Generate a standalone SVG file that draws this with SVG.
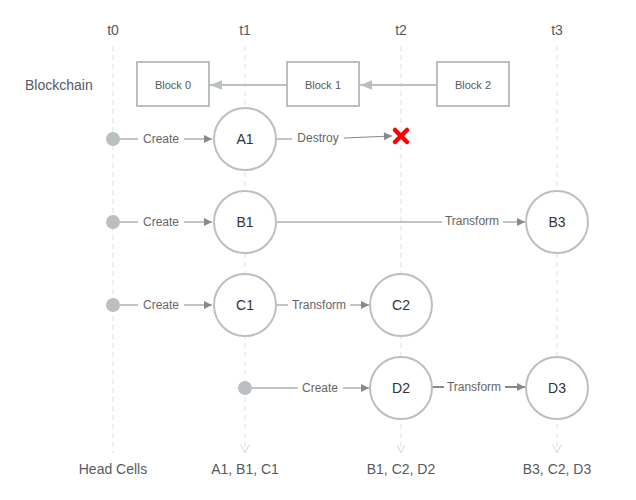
<svg xmlns="http://www.w3.org/2000/svg" width="636" height="500" viewBox="0 0 636 500">
<style>
text{font-family:"Liberation Sans",Arial,sans-serif;fill:#555a60}
.tl{font-size:14px;text-anchor:middle}
.lane{stroke:#dcdfe3;stroke-width:1;stroke-dasharray:5 4;fill:none}
.blk rect{fill:#fff;stroke:#babfc2;stroke-width:2}
.blk text{font-size:11px;text-anchor:middle}
.cell circle{fill:#fff;stroke:#babfc2;stroke-width:2}
.cell text{font-size:14px;text-anchor:middle;fill:#333}
.dot{fill:#babfc2}
.e{stroke:#888;stroke-width:1;fill:none}
.el{font-size:12px;text-anchor:middle;fill:#666}
.ch{stroke:#babfc2;stroke-width:2;fill:none}
</style>
<defs>
<marker id="ah" viewBox="0 0 10 10" refX="10" refY="5" markerWidth="10" markerHeight="8" markerUnits="userSpaceOnUse" orient="auto"><path d="M0,0L10,5L0,10z" fill="#888"/></marker>
<marker id="ahc" viewBox="0 0 10 10" refX="10" refY="5" markerWidth="12" markerHeight="12" markerUnits="userSpaceOnUse" orient="auto"><path d="M0,1L10,5L0,9z" fill="#babfc2"/></marker>
<marker id="ahl" viewBox="0 0 10 10" refX="10" refY="5" markerWidth="8" markerHeight="10" markerUnits="userSpaceOnUse" orient="auto"><path d="M0,0L10,5L0,10" fill="none" stroke="#dcdfe3" stroke-width="1.5"/></marker>
</defs>
<g id="timeline">
<text class="tl" x="113" y="35">t0</text>
<text class="tl" x="245" y="35">t1</text>
<text class="tl" x="401" y="35">t2</text>
<text class="tl" x="557" y="35">t3</text>
<line class="lane" x1="113" y1="46" x2="113" y2="453"/>
<line class="lane" x1="245" y1="46" x2="245" y2="453" marker-end="url(#ahl)"/>
<line class="lane" x1="401" y1="46" x2="401" y2="453" marker-end="url(#ahl)"/>
<line class="lane" x1="557" y1="46" x2="557" y2="453" marker-end="url(#ahl)"/>
<text x="25" y="90" style="font-size:14px">Blockchain</text>
<text class="tl" x="113" y="474">Head Cells</text>
<text class="tl" x="245" y="474">A1, B1, C1</text>
<text class="tl" x="401" y="474">B1, C2, D2</text>
<text class="tl" x="557" y="474">B3, C2, D3</text>
</g>
<g id="connectors">
<line class="ch" x1="287" y1="85" x2="210" y2="85" marker-end="url(#ahc)"/>
<line class="ch" x1="437" y1="85" x2="360" y2="85" marker-end="url(#ahc)"/>
<line class="e" x1="120" y1="139" x2="138" y2="139"/>
<text class="el" x="161" y="143">Create</text>
<line class="e" x1="184" y1="139" x2="212" y2="139" marker-end="url(#ah)"/>
<line class="e" x1="276" y1="139" x2="292" y2="139"/>
<text class="el" x="318" y="142">Destroy</text>
<line class="e" x1="344" y1="138" x2="392" y2="136" marker-end="url(#ah)"/>
<line class="e" x1="120" y1="222" x2="138" y2="222"/>
<text class="el" x="161" y="226">Create</text>
<line class="e" x1="184" y1="222" x2="212" y2="222" marker-end="url(#ah)"/>
<line class="e" x1="276" y1="222" x2="442" y2="222"/>
<text class="el" x="472" y="225">Transform</text>
<line class="e" x1="503" y1="222" x2="525" y2="222" marker-end="url(#ah)"/>
<line class="e" x1="120" y1="305" x2="138" y2="305"/>
<text class="el" x="161" y="309">Create</text>
<line class="e" x1="184" y1="305" x2="212" y2="305" marker-end="url(#ah)"/>
<line class="e" x1="276" y1="305" x2="288" y2="305"/>
<text class="el" x="319" y="309">Transform</text>
<line class="e" x1="350" y1="305" x2="369" y2="305" marker-end="url(#ah)"/>
<line class="e" x1="252" y1="388" x2="298" y2="388"/>
<text class="el" x="320" y="392">Create</text>
<line class="e" x1="343" y1="388" x2="369" y2="388" marker-end="url(#ah)"/>
<line class="e" x1="432" y1="387" x2="444" y2="387" style="stroke-width:2"/>
<text class="el" x="474" y="391">Transform</text>
<line class="e" x1="505" y1="387" x2="525" y2="387" style="stroke-width:2" marker-end="url(#ah)"/>
</g>
<g id="block0" class="blk"><rect x="137" y="62" width="72" height="44"/><text x="173" y="89">Block 0</text></g>
<g id="block1" class="blk"><rect x="287" y="62" width="72" height="44"/><text x="323" y="89">Block 1</text></g>
<g id="block2" class="blk"><rect x="437" y="62" width="72" height="44"/><text x="473" y="89">Block 2</text></g>
<g id="origin-a"><circle class="dot" cx="113" cy="139" r="7"/></g>
<g id="origin-b"><circle class="dot" cx="113" cy="222" r="7"/></g>
<g id="origin-c"><circle class="dot" cx="113" cy="305" r="7"/></g>
<g id="origin-d"><circle class="dot" cx="245" cy="388" r="7"/></g>
<g id="A1" class="cell"><circle cx="245" cy="139" r="31"/><text x="245" y="144">A1</text></g>
<g id="B1" class="cell"><circle cx="245" cy="222" r="31"/><text x="245" y="227">B1</text></g>
<g id="C1" class="cell"><circle cx="245" cy="305" r="31"/><text x="245" y="310">C1</text></g>
<g id="C2" class="cell"><circle cx="401" cy="305" r="31"/><text x="401" y="310">C2</text></g>
<g id="D2" class="cell"><circle cx="401" cy="388" r="31"/><text x="401" y="393">D2</text></g>
<g id="B3" class="cell"><circle cx="557" cy="222" r="31"/><text x="557" y="227">B3</text></g>
<g id="D3" class="cell"><circle cx="557" cy="388" r="31"/><text x="557" y="393">D3</text></g>
<g id="destroyed"><path d="M395,130L407,142M407,130L395,142" stroke="#f00" stroke-width="4.5" stroke-linecap="round"/></g>
</svg>
